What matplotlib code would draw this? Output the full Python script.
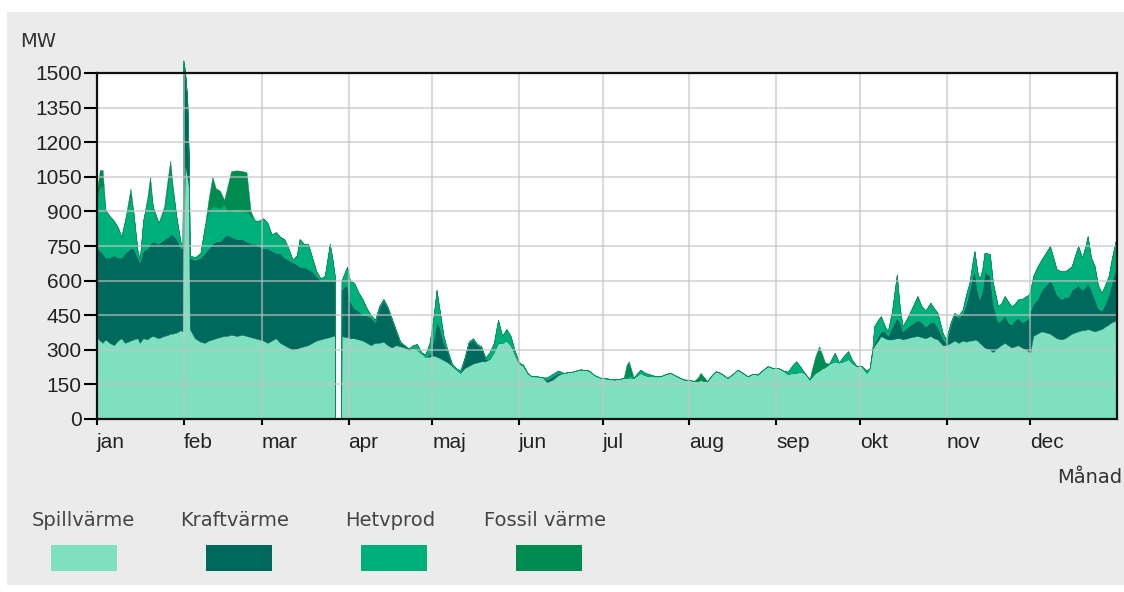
import matplotlib.pyplot as plt
import numpy as np
from matplotlib.patches import Rectangle
from matplotlib.transforms import ScaledTranslation

# day of year, and the top of each stacked band (MW)
days = [0, 1, 2, 3, 4.5, 6, 7.5, 8.7, 10, 12, 13, 14.5, 15.3, 16.5, 18, 19, 20, 22, 24, 25.5, 26.2, 27, 28.5, 30, 30.6, 30.9, 31.5, 32.3, 32.9, 33.2,
        35, 37, 38.5, 40, 41.3, 42.5, 44, 45.5, 46.5, 48, 50, 52, 53.5, 55, 56.5, 58,
        59.5, 61, 62.5, 64, 65.5, 67, 68.5, 70, 71.5, 72.5, 74, 75.5, 77, 78.5, 80, 81.5, 83.3, 84.3, 85.1, 85.2, 87.4, 87.5, 88.8, 89.5,
        90.5, 92, 93.5, 95, 96.5, 98, 99.5, 101, 102.5, 104, 105.5, 107, 108.5, 110, 111.5, 113, 114.5, 116, 117.5, 119,
        120.5, 121.5, 122.5, 124, 125.5, 127, 128.5, 130, 131.5, 133, 134.5, 136, 137.5, 139, 140.5, 142, 143.5, 145, 146.5, 148, 149.5,
        151, 152.5, 154, 155.5, 157.5, 159.5, 161, 163, 165, 167, 170, 173, 176, 178,
        180.2, 183, 185, 187.5, 188.5, 189.5, 190.3, 191.3, 192, 194.5, 196, 198, 200, 201.6, 203.5, 205.2, 207.5, 210,
        212, 213.6, 215, 216, 217, 218.4, 220, 221.4, 223, 225.6, 227.5, 229.2, 231, 232.8, 234.5, 236.4, 238, 240,
        242, 243.6, 245.5, 247.2, 249, 250.2, 251.5, 253.2, 255, 255.5, 257, 258.4, 259.5, 260.5, 262, 264, 265.5, 267, 268.8, 270, 271.8, 273.5, 275.4, 276.5, 277.5,
        278.1, 279.5, 280.5, 282, 283, 284.5, 286.2, 287.3, 288.3, 290, 291.4, 293.6, 295, 296.5, 298.2, 299.5, 300.8, 302.6, 303.8,
        305.5, 306.8, 308.3, 309.8, 311, 312.2, 313.3, 314, 315, 315.8, 316.8, 317.6, 319.5, 320.6, 322.4, 323.5, 324.8, 326, 327.2, 328.5, 329.5, 331, 332.6, 333.5,
        334, 335, 336.5, 338, 339.5, 341, 342.2, 343.4, 345, 346.4, 347.6, 348.8, 350, 351.1, 352.5, 353.5, 354.5, 355.7, 357, 358.2, 359.5, 360.7, 362, 363.2, 364.3, 365]

spill_top = [355, 340, 330, 345, 330, 320, 340, 350, 330, 340, 345, 350, 330, 350, 345, 355, 360, 350, 360, 365, 370, 370, 375, 385, 380, 700, 1100, 1050, 1000, 390,
             350, 335, 330, 340, 345, 350, 355, 360, 360, 365, 360, 365, 360, 355, 350, 345,
             340, 330, 340, 350, 330, 320, 310, 300, 305, 310, 315, 320, 330, 340, 345, 350, 355, 360, 360, 0, 0, 360, 355, 355,
             350, 350, 345, 340, 330, 320, 330, 330, 335, 320, 310, 320, 315, 310, 300, 310, 300, 285, 270, 270,
             275, 270, 265, 255, 245, 230, 215, 200, 220, 230, 240, 245, 250, 250, 260, 290, 330, 330, 340, 320, 280,
             240, 230, 200, 185, 185, 180, 160, 170, 190, 200, 205, 215, 210, 190,
             178, 175, 171, 175, 178, 178, 180, 180, 178, 200, 190, 185, 185, 185, 195, 200, 185, 171,
             170, 164, 165, 170, 165, 165, 190, 207, 200, 178, 195, 214, 200, 185, 195, 193, 210, 229,
             220, 222, 210, 195, 200, 200, 205, 200, 171, 180, 200, 210, 220, 225, 240, 250, 245, 250, 260, 245, 229, 230, 200, 220, 300,
             316, 340, 359, 350, 345, 345, 350, 350, 345, 350, 355, 360, 355, 350, 360, 350, 345, 320, 320,
             330, 340, 330, 340, 335, 340, 340, 345, 340, 330, 320, 310, 300, 290, 310, 320, 330, 320, 310, 315, 320, 310, 300, 290,
             290, 360, 370, 380, 375, 370, 360, 350, 345, 350, 360, 370, 375, 380, 385, 385, 390, 385, 380, 385, 390, 400, 410, 420, 425, 430]

kraft_top = [740, 730, 720, 700, 700, 710, 700, 700, 720, 740, 740, 700, 680, 730, 740, 760, 770, 760, 780, 790, 800, 800, 780, 740, 740, 1540, 1500, 1380, 1100, 700,
             690, 700, 720, 740, 760, 770, 770, 790, 800, 790, 780, 780, 770, 760, 760, 750,
             740, 740, 730, 720, 720, 700, 690, 680, 670, 660, 660, 650, 640, 620, 600, 600, 600, 600, 600, 0, 0, 560, 580, 575,
             510, 480, 470, 450, 450, 440, 420, 480, 515, 480, 430, 380, 330, 320, 300, 310, 300, 285, 270, 280,
             350, 420, 400, 330, 290, 230, 215, 200, 260, 330, 345, 320, 310, 260, 260, 290, 330, 330, 340, 320, 280,
             240, 230, 200, 185, 185, 180, 170, 185, 200, 200, 205, 215, 210, 190,
             178, 175, 171, 175, 178, 178, 180, 180, 178, 200, 190, 185, 185, 185, 195, 200, 185, 171,
             170, 164, 165, 170, 165, 165, 190, 207, 200, 178, 195, 214, 200, 185, 195, 193, 210, 229,
             220, 222, 210, 195, 200, 200, 205, 200, 171, 180, 200, 210, 220, 225, 240, 250, 245, 250, 260, 245, 229, 230, 200, 220, 300,
             330, 360, 380, 380, 360, 400, 440, 420, 380, 400, 410, 430, 420, 400, 420, 420, 400, 350, 330,
             410, 453, 440, 460, 500, 560, 620, 640, 560, 520, 560, 640, 620, 500, 420, 430, 450, 420, 410, 430, 440, 420, 430, 440,
             470, 500, 520, 560, 580, 600, 580, 540, 520, 530, 530, 560, 570, 580, 560, 570, 590, 560, 520, 480, 470, 500, 540, 600, 640, 650]

hetv_top = [960, 1000, 1010, 900, 880, 860, 830, 790, 860, 960, 900, 730, 690, 860, 940, 1010, 920, 850, 900, 1020, 1070, 1000, 870, 760, 750, 1555, 1510, 1390, 1100, 710,
            700, 720, 830, 900, 920, 920, 910, 930, 900, 900, 910, 900, 900, 880, 860, 860,
            870, 850, 800, 810, 790, 780, 740, 690, 710, 780, 760, 760, 700, 640, 610, 620, 760, 690, 620, 0, 0, 600, 640, 660,
            600, 590, 550, 520, 480, 450, 430, 490, 520, 485, 435, 385, 335, 320, 305, 320, 325, 290, 280, 330,
            450, 560, 480, 360, 295, 240, 220, 210, 265, 335, 350, 325, 315, 265, 290, 330, 430, 360, 390, 360, 295,
            245, 235, 200, 185, 185, 180, 180, 195, 210, 200, 205, 215, 210, 190,
            178, 175, 171, 175, 180, 180, 185, 185, 180, 214, 200, 193, 185, 185, 195, 200, 185, 171,
            170, 164, 165, 170, 165, 165, 190, 207, 200, 178, 195, 214, 200, 185, 195, 193, 210, 229,
            220, 222, 210, 205, 235, 250, 230, 200, 171, 180, 200, 210, 220, 225, 240, 287, 245, 270, 294, 260, 229, 230, 210, 220, 310,
            402, 430, 446, 400, 380, 470, 627, 480, 402, 440, 475, 533, 490, 470, 504, 480, 460, 374, 345,
            420, 460, 450, 475, 540, 591, 680, 728, 640, 605, 650, 721, 715, 591, 489, 500, 533, 510, 489, 500, 518, 520, 533, 540,
            560, 620, 660, 692, 720, 750, 700, 649, 640, 641, 650, 663, 710, 750, 700, 740, 793, 700, 663, 580, 547, 580, 620, 700, 760, 800]

fossil_top = [990, 1080, 1080, 910, 880, 860, 830, 790, 860, 1000, 900, 730, 690, 860, 960, 1050, 920, 850, 920, 1060, 1120, 1020, 870, 760, 750, 1555, 1510, 1390, 1100, 710,
              700, 720, 830, 960, 1050, 1000, 990, 950, 1000, 1075, 1078, 1075, 1070, 900, 860, 860,
              870, 850, 800, 810, 790, 780, 740, 690, 710, 780, 760, 760, 700, 640, 610, 620, 760, 690, 620, 0, 0, 600, 640, 660,
              600, 590, 550, 520, 480, 450, 430, 490, 520, 485, 435, 385, 335, 320, 305, 320, 325, 290, 280, 330,
              450, 560, 480, 360, 295, 240, 220, 210, 265, 335, 350, 325, 315, 265, 290, 330, 430, 360, 390, 360, 295,
              245, 235, 200, 185, 185, 180, 180, 195, 210, 200, 205, 215, 210, 190,
              178, 175, 171, 175, 180, 235, 250, 210, 180, 214, 200, 193, 185, 185, 195, 200, 185, 171,
              170, 164, 180, 200, 185, 165, 190, 207, 200, 178, 195, 214, 200, 185, 195, 193, 210, 229,
              220, 222, 210, 205, 235, 250, 230, 200, 171, 200, 270, 316, 280, 245, 240, 287, 245, 270, 294, 260, 229, 230, 210, 220, 310,
              402, 430, 446, 400, 380, 470, 627, 480, 402, 440, 475, 533, 490, 470, 504, 480, 460, 374, 345,
              420, 460, 450, 475, 540, 591, 680, 728, 640, 605, 650, 721, 715, 591, 489, 500, 533, 510, 489, 500, 518, 520, 533, 540,
              560, 620, 660, 692, 720, 750, 700, 649, 640, 641, 650, 663, 710, 750, 700, 740, 793, 700, 663, 580, 547, 580, 620, 700, 760, 800]

months = ['jan', 'feb', 'mar', 'apr', 'maj', 'jun', 'jul', 'aug', 'sep', 'okt', 'nov', 'dec']
month_start = [0, 31, 59, 90, 120, 151, 181, 212, 243, 273, 304, 334]
y_ticks = list(range(0, 1501, 150))
series = ['Spillvärme', 'Kraftvärme', 'Hetvprod', 'Fossil värme']
colors = ['#7fe0c0', '#00695e', '#00b07a', '#008c50']

W, H = 1124, 592
fig = plt.figure(figsize=(W / 100, H / 100), dpi=100, facecolor='white')
fig.patches.append(Rectangle((7 / W, 7 / H), 1117 / W, 573 / H, transform=fig.transFigure,
                             facecolor='#ebebeb', edgecolor='none', zorder=-5))

ax = fig.add_axes([97 / W, 1 - 419 / H, 1020 / W, 346 / H])
ax.set_facecolor('white')

levels = [np.zeros(len(days)), np.array(spill_top), np.array(kraft_top), np.array(hetv_top), np.array(fossil_top)]
for i in range(4):
    ax.fill_between(days, levels[i], levels[i + 1],
                    facecolor=colors[i], edgecolor=colors[i], lw=0.3, clip_on=False, zorder=1)

ax.set_xlim(0, 365)
ax.set_ylim(0, 1500)
ax.set_yticks(y_ticks)
ax.set_yticklabels([str(v) for v in y_ticks])
ax.set_xticks(month_start)
ax.set_xticklabels(months, ha='left')
shift = ScaledTranslation(-6 / 100, 0, fig.dpi_scale_trans)
for lab in ax.get_xticklabels():
    lab.set_transform(lab.get_transform() + shift)
for lab in ax.get_xticklabels() + ax.get_yticklabels():
    lab.set_fontfamily('Liberation Sans')
ax.tick_params(axis='y', direction='out', length=9.5, width=1.5, pad=1.5, labelsize=15, labelcolor='#222')
ax.tick_params(axis='x', direction='out', length=4, width=1.5, pad=6, labelsize=15, labelcolor='#222')

ax.grid(True, color='#c4c4c4', lw=1.5, alpha=0.6)
ax.set_axisbelow(False)
for sp in ax.spines.values():
    sp.set_linewidth(1.6)
    sp.set_color('#111')
    sp.set_zorder(3)

fig.text(20 / W, 1 - 47 / H, 'MW', fontsize=14, color='#333', va='baseline')
fig.text(1057 / W, 1 - 483 / H, 'Månad', fontsize=14, color='#333', va='baseline')

text_x = [32, 180, 345, 484]
patch_x = [51, 206, 361, 516]
for i in range(4):
    fig.text(text_x[i] / W, 1 - 526 / H, series[i], fontsize=14, color='#444', va='baseline')
    fig.patches.append(Rectangle((patch_x[i] / W, 1 - 571 / H), 66 / W, 26 / H, transform=fig.transFigure,
                                 facecolor=colors[i], edgecolor='none', zorder=1))

fig.savefig('out.png', dpi=100, facecolor='white')
